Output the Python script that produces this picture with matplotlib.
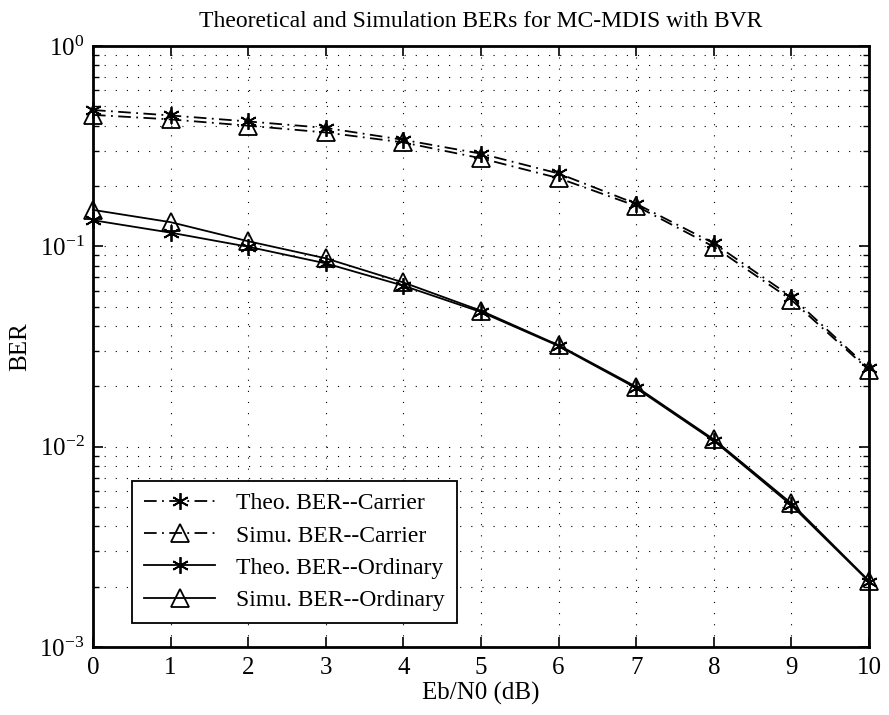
""" theoretical vs simulated BER curves for MC-MDIS with BVR """
import matplotlib
matplotlib.use('Agg')
import matplotlib.pyplot as plt
import numpy as np
from matplotlib.ticker import LogLocator, FixedLocator

plt.rcParams.update({'font.family': 'Liberation Serif',
                     'mathtext.fontset': 'stix'})

# data
ebn0 = [0, 1, 2, 3, 4, 5, 6, 7, 8, 9, 10]
theo_carrier = [0.479, 0.450, 0.420, 0.390, 0.340, 0.290, 0.231, 0.163, 0.1035, 0.056, 0.0246]
simu_carrier = [0.453, 0.430, 0.400, 0.370, 0.330, 0.275, 0.219, 0.159, 0.0995, 0.054, 0.0241]
theo_ordinary = [0.135, 0.117, 0.0995, 0.0822, 0.0636, 0.0470, 0.0318, 0.0196, 0.0107, 0.0051, 0.00212]
simu_ordinary = [0.152, 0.132, 0.106, 0.0871, 0.0660, 0.0477, 0.0321, 0.0199, 0.01087, 0.00521, 0.00214]
labels = ['Theo. BER--Carrier', 'Simu. BER--Carrier',
          'Theo. BER--Ordinary', 'Simu. BER--Ordinary']

fig = plt.figure(figsize=(8.89, 7.15), dpi=100)
ax = fig.add_axes([0.1046, 0.0951, 0.8729, 0.8406])

dashdot = (0, (7, 3, 1, 3))
star = (6, 2, 0)
common = dict(color='k', lw=1.3, mew=1.3, clip_on=False, zorder=3)
ax.semilogy(ebn0, theo_carrier, ls=dashdot, marker=star, ms=12,
            label=labels[0], **common)
ax.semilogy(ebn0, simu_carrier, ls=dashdot, marker='^', ms=13, mfc='none',
            label=labels[1], **common)
ax.semilogy(ebn0, theo_ordinary, ls='-', marker=star, ms=12,
            label=labels[2], **common)
ax.semilogy(ebn0, simu_ordinary, ls='-', marker='^', ms=13, mfc='none',
            label=labels[3], **common)

ax.set_xlim(0, 10)
ax.set_ylim(1e-3, 1)
ax.xaxis.set_major_locator(FixedLocator(ebn0))
ax.yaxis.set_major_locator(LogLocator(base=10, numticks=10))
ax.yaxis.set_minor_locator(LogLocator(base=10, subs=np.arange(2, 10), numticks=10))
ax.yaxis.set_minor_formatter(plt.NullFormatter())

# matlab-ish look: inward ticks on all sides, dotted grid
ax.tick_params(which='both', direction='in', top=True, right=True,
               labelsize=18, color='k')
ax.tick_params(which='major', length=7, width=1.2)
ax.tick_params(which='minor', length=4, width=1.0)
ax.tick_params(axis='x', pad=7)
ax.tick_params(axis='y', pad=6)
for s in ax.spines.values():
    s.set_linewidth(2.0)

dots = (0, (1, 9))
ax.grid(True, which='major', color='k', ls=dots, lw=0.8)
ax.grid(True, which='minor', axis='y', color='k', ls=dots, lw=0.8)

ax.set_title('Theoretical and Simulation BERs for MC-MDIS with BVR', fontsize=17, pad=14)
ax.set_xlabel('Eb/N0 (dB)', fontsize=18, labelpad=2)
ax.set_ylabel('BER', fontsize=18, labelpad=6)

leg = ax.legend(loc='lower left', bbox_to_anchor=(0.0507, 0.0404), borderaxespad=0,
                fontsize=17, fancybox=False, framealpha=1, edgecolor='k',
                handlelength=3.0, handletextpad=0.9, labelspacing=0.45,
                borderpad=0.5)
leg.get_frame().set_linewidth(1.3)

fig.savefig('out.png', dpi=100)
